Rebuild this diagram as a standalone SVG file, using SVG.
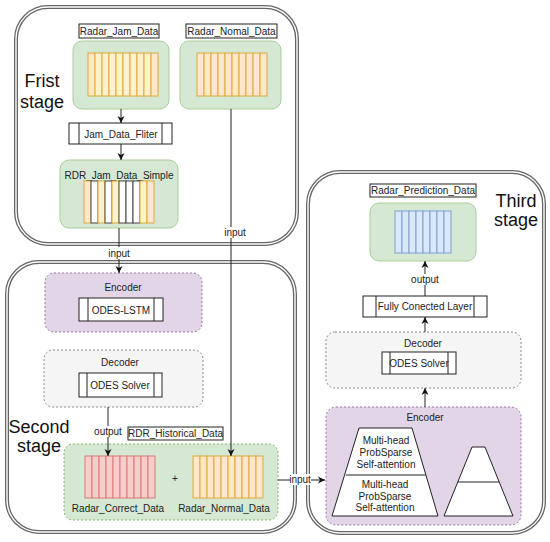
<svg xmlns="http://www.w3.org/2000/svg" width="550" height="542" viewBox="0 0 550 542">
<defs>
<marker id="arr" markerWidth="8" markerHeight="8" refX="7" refY="4" orient="auto" markerUnits="userSpaceOnUse">
<path d="M0,0.5 L7,4 L0,7.5 L2,4 Z" fill="#111"/>
</marker>
<style>
text{font-family:"Liberation Sans",Arial,sans-serif;fill:#222;}
.t{font-size:10px;text-anchor:middle;dominant-baseline:central;}
.big{font-size:18px;text-anchor:middle;fill:#111;}
.lbl{fill:#fff;stroke:#222;stroke-width:1;}
.cont{fill:none;stroke:#666;stroke-width:4;}
.contin{fill:none;stroke:#fff;stroke-width:1.4;}
.green{fill:#d5e8d4;stroke:#a9cf99;stroke-width:1;}
.greend{fill:#d5e8d4;stroke:#82b366;stroke-width:1;stroke-dasharray:2 2;}
.purple{fill:#e1d5e7;stroke:#9673a6;stroke-width:1;stroke-dasharray:2 2;}
.gray{fill:#f5f5f5;stroke:#888;stroke-width:1;stroke-dasharray:2 2;}
.proc{fill:#fff;stroke:#222;stroke-width:1;}
.pe{fill:#ffe6cc;stroke:#e0a83a;stroke-width:1;}
.ye{fill:#fff2cc;stroke:#e0a83a;stroke-width:1;}
.wh{fill:#fff;stroke:#444;stroke-width:1;}
.rd{fill:#f8cecc;stroke:#d97b77;stroke-width:1;}
.bl{fill:#dae8fc;stroke:#7e9fd0;stroke-width:1;}
.edge{fill:none;stroke:#222;stroke-width:1;}
.trap{fill:#fff;stroke:#222;stroke-width:1;}
</style>
</defs>

<!-- containers -->
<g id="first-stage">
<rect class="cont" x="16" y="7" width="281" height="237" rx="32"/>
<rect class="contin" x="16" y="7" width="281" height="237" rx="32"/>
<text class="big" x="42" y="87">Frist</text>
<text class="big" x="42" y="108">stage</text>
</g>
<g id="second-stage">
<rect class="cont" x="7" y="262" width="288" height="270" rx="32"/>
<rect class="contin" x="7" y="262" width="288" height="270" rx="32"/>
<text class="big" x="39" y="433">Second</text>
<text class="big" x="39" y="452">stage</text>
</g>
<g id="third-stage">
<rect class="cont" x="308" y="172" width="236" height="361" rx="32"/>
<rect class="contin" x="308" y="172" width="236" height="361" rx="32"/>
<text class="big" x="516" y="207">Third</text>
<text class="big" x="516" y="226">stage</text>
</g>

<!-- first stage nodes -->
<g id="radar-jam-data">
<rect class="lbl" x="79" y="24" width="80" height="14"/>
<text class="t" x="119" y="31">Radar_Jam_Data</text>
<rect class="green" x="73" y="41" width="96" height="68" rx="9"/>
<rect class="pe" x="88" y="53" width="7" height="43"/>
<rect class="ye" x="95" y="53" width="7" height="43"/>
<rect class="ye" x="102" y="53" width="7" height="43"/>
<rect class="ye" x="109" y="53" width="7" height="43"/>
<rect class="ye" x="116" y="53" width="7" height="43"/>
<rect class="ye" x="123" y="53" width="7" height="43"/>
<rect class="ye" x="130" y="53" width="7" height="43"/>
<rect class="ye" x="137" y="53" width="7" height="43"/>
<rect class="ye" x="144" y="53" width="7" height="43"/>
<rect class="pe" x="151" y="53" width="7" height="43"/>
</g>
<g id="radar-nomal-data">
<rect class="lbl" x="186" y="24" width="91" height="14"/>
<text class="t" x="231.5" y="31">Radar_Nomal_Data</text>
<rect class="green" x="180" y="41" width="101" height="68" rx="9"/>
<rect class="pe" x="197" y="53" width="7" height="43"/>
<rect class="pe" x="204" y="53" width="7" height="43"/>
<rect class="pe" x="211" y="53" width="7" height="43"/>
<rect class="pe" x="218" y="53" width="7" height="43"/>
<rect class="pe" x="225" y="53" width="7" height="43"/>
<rect class="pe" x="232" y="53" width="7" height="43"/>
<rect class="pe" x="239" y="53" width="7" height="43"/>
<rect class="pe" x="246" y="53" width="7" height="43"/>
<rect class="pe" x="253" y="53" width="7" height="43"/>
<rect class="pe" x="260" y="53" width="7" height="43"/>
</g>
<g id="jam-data-fliter">
<rect class="proc" x="69" y="123" width="103" height="21"/>
<line class="proc" x1="79" y1="123" x2="79" y2="144"/>
<line class="proc" x1="162" y1="123" x2="162" y2="144"/>
<text class="t" x="121" y="134">Jam_Data_Fliter</text>
</g>
<g id="rdr-jam-data-simple">
<rect class="green" x="60" y="160" width="118" height="68" rx="9"/>
<text class="t" x="119" y="175">RDR_Jam_Data_Simple</text>
<rect class="pe" x="84" y="181" width="7" height="42"/>
<rect class="wh" x="91" y="181" width="7" height="42"/>
<rect class="ye" x="98" y="181" width="7" height="42"/>
<rect class="wh" x="105" y="181" width="7" height="42"/>
<rect class="ye" x="112" y="181" width="7" height="42"/>
<rect class="wh" x="119" y="181" width="7" height="42"/>
<rect class="wh" x="126" y="181" width="7" height="42"/>
<rect class="wh" x="133" y="181" width="7" height="42"/>
<rect class="ye" x="140" y="181" width="7" height="42"/>
<rect class="pe" x="147" y="181" width="7" height="42"/>
</g>

<!-- second stage nodes -->
<g id="encoder-2">
<rect class="purple" x="45" y="273" width="157" height="59" rx="9"/>
<text class="t" x="123" y="287">Encoder</text>
<rect class="proc" x="79" y="298" width="84" height="23"/>
<line class="proc" x1="88" y1="298" x2="88" y2="321"/>
<line class="proc" x1="154" y1="298" x2="154" y2="321"/>
<text class="t" x="121" y="310">ODES-LSTM</text>
</g>
<g id="decoder-2">
<rect class="gray" x="44" y="350" width="159" height="57" rx="9"/>
<text class="t" x="120" y="362">Decoder</text>
<rect class="proc" x="79" y="373" width="83" height="24"/>
<line class="proc" x1="87" y1="373" x2="87" y2="397"/>
<line class="proc" x1="154" y1="373" x2="154" y2="397"/>
<text class="t" x="120" y="385">ODES Solver</text>
</g>
<g id="rdr-historical-data">
<rect class="greend" x="64" y="444" width="214" height="76" rx="9"/>
<rect class="lbl" x="128" y="427" width="95" height="13"/>
<text class="t" x="175.5" y="433.5">RDR_Historical_Data</text>
<rect class="rd" x="85" y="456" width="7" height="42"/>
<rect class="rd" x="92" y="456" width="7" height="42"/>
<rect class="rd" x="99" y="456" width="7" height="42"/>
<rect class="rd" x="106" y="456" width="7" height="42"/>
<rect class="rd" x="113" y="456" width="7" height="42"/>
<rect class="rd" x="120" y="456" width="7" height="42"/>
<rect class="rd" x="127" y="456" width="7" height="42"/>
<rect class="rd" x="134" y="456" width="7" height="42"/>
<rect class="rd" x="141" y="456" width="7" height="42"/>
<rect class="rd" x="148" y="456" width="7" height="42"/>
<text class="t" x="175" y="478">+</text>
<rect class="pe" x="193" y="456" width="7" height="42"/>
<rect class="pe" x="200" y="456" width="7" height="42"/>
<rect class="pe" x="207" y="456" width="7" height="42"/>
<rect class="pe" x="214" y="456" width="7" height="42"/>
<rect class="pe" x="221" y="456" width="7" height="42"/>
<rect class="pe" x="228" y="456" width="7" height="42"/>
<rect class="pe" x="235" y="456" width="7" height="42"/>
<rect class="pe" x="242" y="456" width="7" height="42"/>
<rect class="pe" x="249" y="456" width="7" height="42"/>
<rect class="pe" x="256" y="456" width="7" height="42"/>
<text class="t" x="118" y="508">Radar_Correct_Data</text>
<text class="t" x="224" y="508">Radar_Normal_Data</text>
</g>

<!-- third stage nodes -->
<g id="radar-prediction-data">
<rect class="lbl" x="370" y="184" width="106" height="13"/>
<text class="t" x="423" y="190.5">Radar_Prediction_Data</text>
<rect class="green" x="370" y="203" width="106" height="58" rx="9"/>
<rect class="bl" x="395" y="211" width="7" height="42"/>
<rect class="bl" x="402" y="211" width="7" height="42"/>
<rect class="bl" x="409" y="211" width="7" height="42"/>
<rect class="bl" x="416" y="211" width="7" height="42"/>
<rect class="bl" x="423" y="211" width="7" height="42"/>
<rect class="bl" x="430" y="211" width="7" height="42"/>
<rect class="bl" x="437" y="211" width="7" height="42"/>
<rect class="bl" x="444" y="211" width="7" height="42"/>
</g>
<g id="fully-conected-layer">
<rect class="proc" x="363" y="296" width="124" height="21"/>
<line class="proc" x1="376" y1="296" x2="376" y2="317"/>
<line class="proc" x1="474" y1="296" x2="474" y2="317"/>
<text class="t" x="425" y="306.5">Fully Conected Layer</text>
</g>
<g id="decoder-3">
<rect class="gray" x="326" y="332" width="195" height="56" rx="9"/>
<text class="t" x="423" y="343">Decoder</text>
<rect class="proc" x="382" y="352" width="74" height="22"/>
<line class="proc" x1="390" y1="352" x2="390" y2="374"/>
<line class="proc" x1="448" y1="352" x2="448" y2="374"/>
<text class="t" x="419" y="363">ODES Solver</text>
</g>
<g id="encoder-3">
<rect class="purple" x="326" y="407" width="195" height="118" rx="10"/>
<text class="t" x="425" y="417">Encoder</text>
<path class="trap" d="M359,428 L412,428 L438,516 L332,516 Z"/>
<line class="trap" x1="346" y1="475" x2="426" y2="475"/>
<text class="t" x="386" y="440">Multi-head</text>
<text class="t" x="386" y="452">ProbSparse</text>
<text class="t" x="386" y="464">Self-attention</text>
<text class="t" x="385" y="484.5">Multi-head</text>
<text class="t" x="385" y="496">ProbSparse</text>
<text class="t" x="385" y="507.5">Self-attention</text>
<path class="trap" d="M472,447 L485,447 L513,516 L444,516 Z"/>
<line class="trap" x1="458" y1="482" x2="499" y2="482"/>
</g>

<!-- connectors -->
<g id="connectors">
<line class="edge" x1="121" y1="109" x2="121" y2="123" marker-end="url(#arr)"/>
<line class="edge" x1="121" y1="144" x2="121" y2="160" marker-end="url(#arr)"/>
<line class="edge" x1="119" y1="228" x2="119" y2="273" marker-end="url(#arr)"/>
<rect x="108" y="247" width="22" height="12" fill="#fff"/>
<text class="t" x="119" y="253">input</text>
<line class="edge" x1="231" y1="109" x2="231" y2="456" marker-end="url(#arr)"/>
<rect x="225" y="227" width="22" height="11" fill="#fff"/>
<text class="t" x="235" y="232">input</text>
<line class="edge" x1="108" y1="407" x2="108" y2="456" marker-end="url(#arr)"/>
<rect x="95" y="426" width="27" height="11" fill="#fff"/>
<text class="t" x="108" y="431.5">output</text>
<line class="edge" x1="278" y1="480" x2="325" y2="480" marker-end="url(#arr)"/>
<rect x="290" y="474" width="21" height="11" fill="#fff"/>
<text class="t" x="300" y="479">input</text>
<line class="edge" x1="425" y1="407" x2="425" y2="388" marker-end="url(#arr)"/>
<line class="edge" x1="425" y1="332" x2="425" y2="317" marker-end="url(#arr)"/>
<line class="edge" x1="425" y1="296" x2="425" y2="261" marker-end="url(#arr)"/>
<rect x="411" y="274" width="28" height="11" fill="#fff"/>
<text class="t" x="425" y="279.5">output</text>
</g>
</svg>
